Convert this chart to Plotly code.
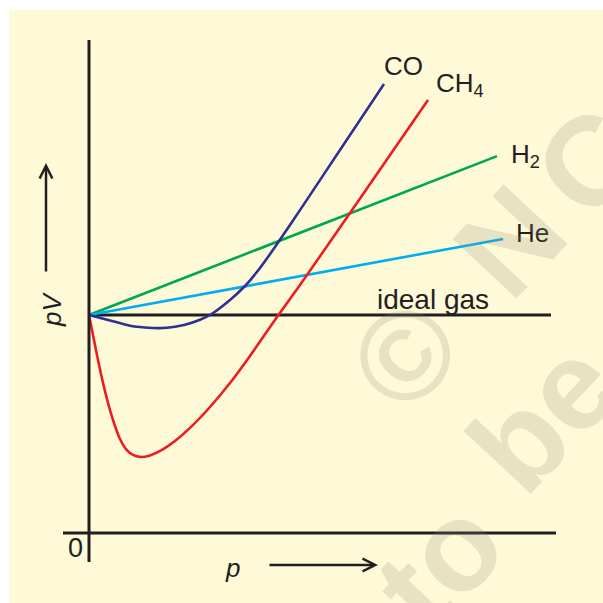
import plotly.graph_objects as go

# ---- data (p in arbitrary units, pV relative to ideal gas = 1) ----
ideal_p = [0.0, 4.62]
ideal_pv = [1.0, 1.0]

h2_p = [0.0, 4.08]
h2_pv = [1.0, 1.729]

he_p = [0.0, 4.14]
he_pv = [1.0, 1.349]

co_p = [0.0, 0.21, 0.41, 0.56, 0.71, 0.86, 0.96, 1.11, 1.21, 1.41, 1.56, 1.71, 1.86, 2.01, 2.21, 2.51, 2.95]
co_pv = [1.000, 0.975, 0.951, 0.943, 0.940, 0.946, 0.955, 0.978, 1.000, 1.069, 1.133, 1.216, 1.312,
         1.413, 1.550, 1.757, 2.060]

ch4_p = [0.0, 0.04, 0.08, 0.12, 0.16, 0.21, 0.26, 0.31, 0.37, 0.44, 0.51, 0.61, 0.73, 0.86,
         1.01, 1.21, 1.41, 1.61, 1.88, 2.11, 2.61, 3.39]
ch4_pv = [1.000, 0.908, 0.817, 0.729, 0.651, 0.564, 0.491, 0.431, 0.385, 0.358, 0.349, 0.356,
          0.381, 0.422, 0.482, 0.578, 0.688, 0.812, 0.991, 1.138, 1.468, 1.986]

W = H = 603
INK = "#231F20"
FONT = "Liberation Sans, Arial, sans-serif"
WM = "rgba(144,134,120,0.2)"


def px(x):
    return x / W


def py(y):
    return 1 - y / H


fig = go.Figure()

fig.add_trace(go.Scatter(x=ideal_p, y=ideal_pv, mode="lines",
                         line=dict(color=INK, width=3), hoverinfo="skip"))
fig.add_trace(go.Scatter(x=h2_p, y=h2_pv, mode="lines",
                         line=dict(color="#00A650", width=2.6), hoverinfo="skip"))
fig.add_trace(go.Scatter(x=he_p, y=he_pv, mode="lines",
                         line=dict(color="#00AEEF", width=2.6), hoverinfo="skip"))
fig.add_trace(go.Scatter(x=co_p, y=co_pv, mode="lines",
                         line=dict(color="#2E3192", width=2.6, shape="spline", smoothing=0.6),
                         hoverinfo="skip"))
fig.add_trace(go.Scatter(x=ch4_p, y=ch4_pv, mode="lines",
                         line=dict(color="#ED1C24", width=2.6, shape="spline", smoothing=0.6),
                         hoverinfo="skip"))

shapes = [
    dict(type="rect", xref="paper", yref="paper", x0=px(9), x1=1, y0=0, y1=py(10),
         fillcolor="#FEF9D7", line=dict(width=0), layer="below"),
    dict(type="line", xref="x", yref="y", x0=0, x1=0, y0=-0.133, y1=2.261,
         line=dict(color=INK, width=3)),
    dict(type="line", xref="x", yref="y", x0=-0.26, x1=4.67, y0=0, y1=0,
         line=dict(color=INK, width=3)),
]

ann = []


def label(text, x, y, size=26, xanchor="center", yanchor="middle", italic=False, angle=0):
    ann.append(dict(text=text, x=px(x), y=py(y), xref="paper", yref="paper",
                    xanchor=xanchor, yanchor=yanchor, showarrow=False, textangle=angle,
                    font=dict(family=FONT, size=size, color=INK,
                              style="italic" if italic else "normal")))


label("CO", 403, 66)
label("CH<sub>4</sub>", 434, 84, xanchor="left")
label("H<sub>2</sub>", 509, 155, xanchor="left")
label("He", 514, 233, xanchor="left")
label("ideal gas", 433, 299, size=28)
label("0", 75, 548, size=27)
label("p", 232, 568, italic=True)
label("pV", 52, 310, italic=True, angle=-90)

# arrows
ann.append(dict(x=px(378), y=py(565), xref="paper", yref="paper", ax=-110, ay=0,
                text="", showarrow=True, arrowhead=5, arrowsize=1.0, arrowwidth=2.5,
                arrowcolor=INK, standoff=0))
ann.append(dict(x=px(46), y=py(163), xref="paper", yref="paper", ax=0, ay=110,
                text="", showarrow=True, arrowhead=5, arrowsize=1.0, arrowwidth=2.5,
                arrowcolor=INK, standoff=0))


# watermark
def wm(text, x, y, size=127):
    ann.append(dict(text=text, x=px(x + 5), y=py(y + 12), xref="paper", yref="paper",
                    xanchor="center", yanchor="middle", showarrow=False, textangle=-47,
                    font=dict(family=FONT, size=size, color=WM, weight="bold")))


wm("©", 400, 343)
wm("N", 505, 229)
wm("C", 585, 150)
wm("to", 434, 552)
wm("be", 538, 404)
wm("not", 301, 694)

fig.update_layout(
    width=W, height=H, margin=dict(l=0, r=0, t=0, b=0),
    paper_bgcolor="white", plot_bgcolor="rgba(0,0,0,0)",
    showlegend=False,
    xaxis=dict(range=[-0.89, 5.14], visible=False, fixedrange=True),
    yaxis=dict(range=[-0.3211, 2.4450], visible=False, fixedrange=True),
    shapes=shapes, annotations=ann,
)

fig.write_html("out.html", config={"displayModeBar": False, "staticPlot": True},
               post_script="document.body.style.margin='0';document.body.style.overflow='hidden';")
